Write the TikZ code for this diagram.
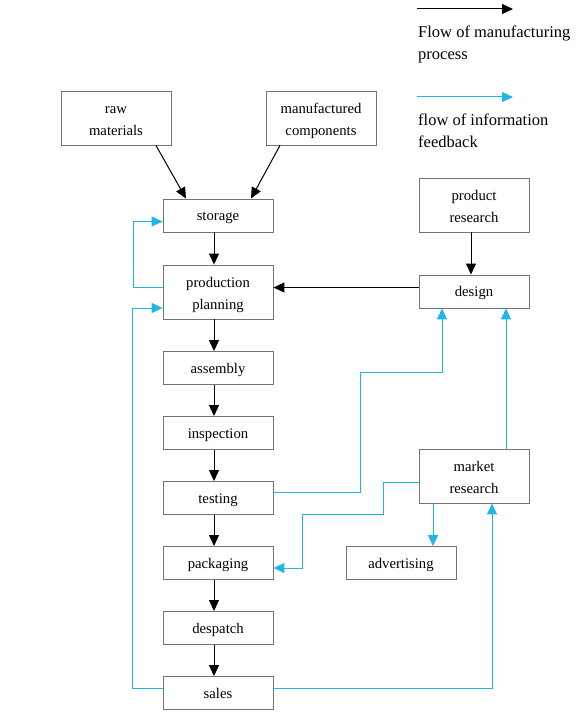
\documentclass[tikz,border=0pt]{standalone}
\usepackage{fontspec}
\setmainfont{Liberation Serif}
\usetikzlibrary{arrows.meta}
\definecolor{fbblue}{RGB}{30,182,232}
\definecolor{boxgray}{RGB}{115,115,115}
\tikzset{
  box/.style={draw=boxgray, line width=0.9pt, rectangle, minimum width=110pt, inner sep=0pt, align=center, font=\fontsize{14.7}{22}\selectfont},
  onebox/.style={box, minimum height=33pt, text height=10pt, text depth=0pt},
  twobox/.style={box, minimum height=54pt, text height=34.8pt, text depth=0pt},
  flow/.style={draw=black, line width=1pt, -{Triangle[length=11pt,width=10pt]}},
  info/.style={draw=fbblue, line width=1pt, -{Triangle[length=11pt,width=10pt]}},
  legtext/.style={anchor=west, align=left, inner sep=0pt, font=\fontsize{16.5}{22}\selectfont}
}
\begin{document}
\begin{tikzpicture}[x=1pt,y=-1pt]
\useasboundingbox (0,0) rectangle (577,719);
% legend
\coordinate (l1a) at (417,9);
\coordinate (l1b) at (513,9);
\coordinate (l2a) at (417,97);
\coordinate (l2b) at (513,97);
\draw[flow] (l1a) -- (l1b);
\draw[info] (l2a) -- (l2b);
\node[legtext] (lt1) at (418,44) {Flow of manufacturing\\process};
\node[legtext] (lt2) at (418,131) {flow of information\\feedback};
% boxes
\node[twobox] (raw) at (116,118) {raw\\materials};
\node[twobox] (manu) at (321,118) {manufactured\\components};
\node[onebox] (stor) at (218,215.5) {storage};
\node[twobox] (pp) at (218,292) {production\\planning};
\node[onebox] (asm) at (218,368) {assembly};
\node[onebox] (insp) at (218,433) {inspection};
\node[onebox] (test) at (218,498) {testing};
\node[onebox] (pack) at (218,563) {packaging};
\node[onebox] (desp) at (218,628) {despatch};
\node[onebox] (sales) at (218,693) {sales};
\node[twobox] (pr) at (474,205) {product\\research};
\node[onebox] (des) at (474,291.5) {design};
\node[twobox] (mr) at (474,476) {market\\research};
\node[onebox] (adv) at (401,563) {advertising};
% manufacturing flow
\draw[flow] ([xshift=40pt]raw.south) -- ([xshift=-32pt]stor.north);
\draw[flow] ([xshift=-41pt]manu.south) -- ([xshift=33pt]stor.north);
\draw[flow] ([xshift=-4pt]stor.south) -- ([xshift=-4pt]pp.north);
\draw[flow] ([xshift=-4pt]pp.south) -- ([xshift=-4pt]asm.north);
\draw[flow] ([xshift=-4pt]asm.south) -- ([xshift=-4pt]insp.north);
\draw[flow] ([xshift=-4pt]insp.south) -- ([xshift=-4pt]test.north);
\draw[flow] ([xshift=-4pt]test.south) -- ([xshift=-4pt]pack.north);
\draw[flow] ([xshift=-4pt]pack.south) -- ([xshift=-4pt]desp.north);
\draw[flow] ([xshift=-4pt]desp.south) -- ([xshift=-4pt]sales.north);
\draw[flow] ([xshift=-3pt]pr.south) -- ([xshift=-3pt]des.north);
\draw[flow] ([yshift=4pt]des.west) -- ([yshift=4pt]des.west -| pp.east);
% information feedback
\draw[info] ([yshift=5pt]pp.west) -- ++(-29,0) |- ([yshift=-6pt]stor.west);
\draw[info] ([yshift=5pt]sales.west) -- ++(-30,0) |- ([yshift=-16pt]pp.west);
\draw[info] ([yshift=5pt]sales.east) -| ([xshift=18pt]mr.south);
\draw[info] ([xshift=32pt]mr.north) -- ([xshift=32pt]des.south);
\draw[info] ([yshift=6pt]test.east) -| (360,372) -| ([xshift=-32pt]des.south);
\draw[info] ([yshift=-6pt]mr.west) -| (383,514) -| (302,568) -- ([yshift=-5pt]pack.east);
\draw[info] ([xshift=-41pt]mr.south) -- ([xshift=-41pt]mr.south |- adv.north);
\end{tikzpicture}
\end{document}
